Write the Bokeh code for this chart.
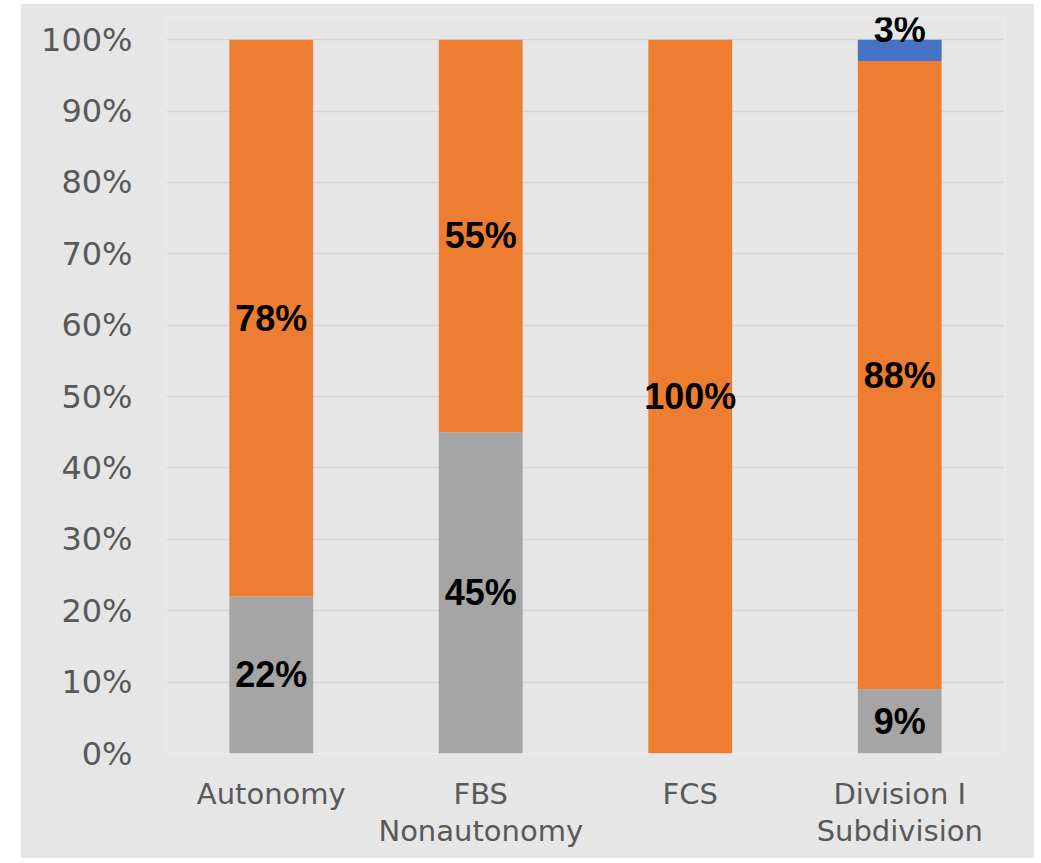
from bokeh.plotting import figure
from bokeh.models import ColumnDataSource, FactorRange, Range1d, FixedTicker, CustomJSTickFormatter
from bokeh.core.properties import value
from bokeh.embed import file_html
from bokeh.resources import INLINE

categories = ["Autonomy", "FBS\nNonautonomy", "FCS", "Division I\nSubdivision"]
gray_vals = [0.22, 0.45, 0.0, 0.09]
orange_vals = [0.78, 0.55, 1.0, 0.88]
blue_vals = [0.0, 0.0, 0.0, 0.03]
y_ticks = [0, 0.1, 0.2, 0.3, 0.4, 0.5, 0.6, 0.7, 0.8, 0.9, 1.0]

GRAY = "#A5A5A5"
ORANGE = "#ED7D31"
BLUE = "#4472C4"
BG = "#E6E6E6"

src = ColumnDataSource(dict(cat=categories, gray=gray_vals, orange=orange_vals, blue=blue_vals))

p = figure(x_range=FactorRange(*categories), y_range=Range1d(0, 1.031),
           width=1014, height=855, output_backend="svg", toolbar_location=None,
           min_border_left=146, min_border_right=30, min_border_top=14, min_border_bottom=105)
p.margin = (3, 0, 0, 20)
p.background_fill_color = BG
p.border_fill_color = BG
p.outline_line_color = None

p.vbar_stack(["gray", "orange", "blue"], x="cat", width=0.4, source=src,
             color=[GRAY, ORANGE, BLUE], line_color=None)

# data labels
lx, ly, lt, loff = [], [], [], []
for i, c in enumerate(categories):
    base = 0.0
    for j, v in enumerate((gray_vals[i], orange_vals[i], blue_vals[i])):
        if v > 0:
            lx.append(c)
            if j == 2:
                ly.append(base + v)
                loff.append(-10)
            else:
                ly.append(base + v / 2)
                loff.append(0)
            lt.append(f"{round(v * 100)}%")
        base += v
lsrc = ColumnDataSource(dict(x=lx, y=ly, t=lt, off=loff))
p.text(x="x", y="y", text="t", y_offset="off", source=lsrc, text_align="center",
       text_baseline="middle", text_font=value("Liberation Sans"), text_font_style="bold",
       text_font_size="36px", text_color="black")

p.xgrid.grid_line_color = None
p.ygrid.ticker = FixedTicker(ticks=y_ticks)
p.ygrid.grid_line_color = "#D6D6D6"
p.ygrid.grid_line_width = 1.5

p.yaxis.ticker = FixedTicker(ticks=y_ticks)
p.yaxis.formatter = CustomJSTickFormatter(code="return Math.round(tick*100) + '%';")
for ax in (p.xaxis[0], p.yaxis[0]):
    ax.axis_line_color = None
    ax.major_tick_line_color = None
    ax.minor_tick_line_color = None
    ax.major_tick_out = 0
    ax.major_tick_in = 0
    ax.major_label_text_color = "#595959"
    ax.major_label_text_font = "DejaVu Sans"
p.yaxis.major_label_text_font_size = "32px"
p.yaxis.major_label_standoff = 34
p.xaxis.major_label_text_font_size = "29px"
p.xaxis.major_label_text_line_height = 1.1
p.xaxis.major_label_standoff = 23

open("out.html", "w").write(file_html(p, INLINE))
